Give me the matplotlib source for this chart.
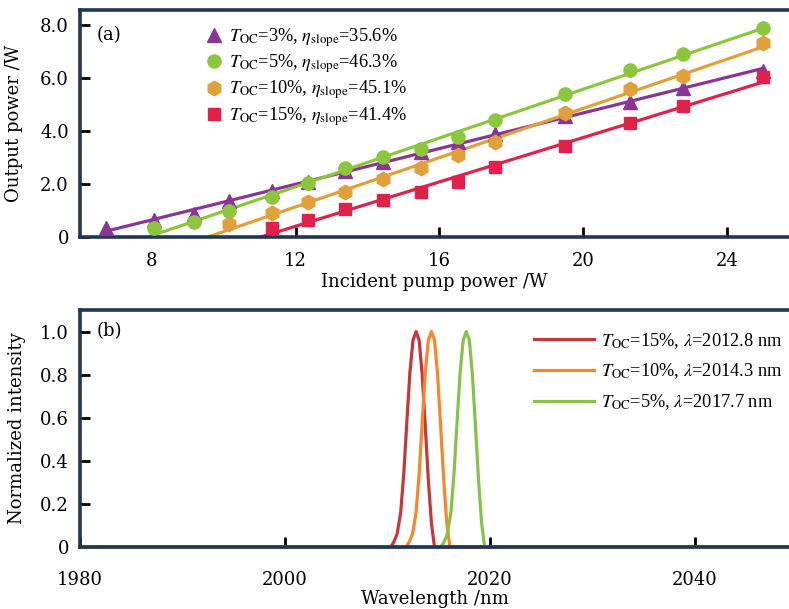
import numpy as np
import matplotlib
matplotlib.use("Agg")
import matplotlib.pyplot as plt
from matplotlib.lines import Line2D
from matplotlib.font_manager import FontProperties

plt.rcParams['font.family'] = ['DejaVu Serif']
plt.rcParams['mathtext.fontset'] = 'stix'

# ---------------- data (a) ----------------
pump_3 = [6.72, 8.07, 9.18, 10.16, 11.33, 12.35, 13.37, 14.44, 15.48, 16.51, 17.56, 19.50, 21.30, 22.77, 25.00]
out_3 = [0.33, 0.64, 0.85, 1.36, 1.74, 2.08, 2.50, 2.85, 3.22, 3.57, 3.90, 4.55, 5.11, 5.61, 6.28]

pump_5 = [8.07, 9.18, 10.16, 11.33, 12.35, 13.37, 14.44, 15.48, 16.51, 17.56, 19.50, 21.30, 22.77, 25.00]
out_5 = [0.33, 0.58, 0.99, 1.50, 2.05, 2.59, 3.02, 3.32, 3.79, 4.42, 5.40, 6.30, 6.89, 7.90]

pump_10 = [10.16, 11.33, 12.35, 13.37, 14.44, 15.48, 16.51, 17.56, 19.50, 21.30, 22.77, 25.00]
out_10 = [0.49, 0.92, 1.31, 1.71, 2.18, 2.62, 3.09, 3.60, 4.67, 5.57, 6.08, 7.31]

pump_15 = [11.33, 12.35, 13.37, 14.44, 15.48, 16.51, 17.56, 19.50, 21.30, 22.77, 25.00]
out_15 = [0.35, 0.64, 1.05, 1.40, 1.69, 2.06, 2.65, 3.45, 4.29, 4.94, 6.05]

labels_a = [r'$T_{\mathrm{OC}}$=3%, $\eta_{\mathrm{slope}}$=35.6%',
            r'$T_{\mathrm{OC}}$=5%, $\eta_{\mathrm{slope}}$=46.3%',
            r'$T_{\mathrm{OC}}$=10%, $\eta_{\mathrm{slope}}$=45.1%',
            r'$T_{\mathrm{OC}}$=15%, $\eta_{\mathrm{slope}}$=41.4%']

xticks_a = [8, 12, 16, 20, 24]
yticks_a = [0, 2, 4, 6, 8]
yticklabels_a = ['0', '2.0', '4.0', '6.0', '8.0']

# ---------------- data (b) ----------------
wl_15 = [1980.0, 2010.3, 2010.6, 2010.95, 2011.3, 2011.6, 2011.9, 2012.2, 2012.5, 2012.8,
         2013.1, 2013.4, 2013.7, 2014.0, 2014.3, 2014.6, 2050.0]
int_15 = [0.0, 0.0, 0.02, 0.06, 0.16, 0.34, 0.58, 0.81, 0.96, 1.0,
          0.96, 0.80, 0.56, 0.31, 0.11, 0.0, 0.0]

wl_10 = [1980.0, 2011.8, 2012.1, 2012.45, 2012.8, 2013.1, 2013.4, 2013.7, 2014.0, 2014.3,
         2014.6, 2014.9, 2015.2, 2015.5, 2015.8, 2016.1, 2050.0]
int_10 = [0.0, 0.0, 0.02, 0.06, 0.16, 0.34, 0.58, 0.81, 0.96, 1.0,
          0.96, 0.80, 0.56, 0.31, 0.11, 0.0, 0.0]

wl_5 = [1980.0, 2015.2, 2015.5, 2015.85, 2016.2, 2016.5, 2016.8, 2017.1, 2017.4, 2017.7,
        2018.0, 2018.3, 2018.6, 2018.9, 2019.2, 2019.5, 2050.0]
int_5 = [0.0, 0.0, 0.02, 0.06, 0.16, 0.34, 0.58, 0.81, 0.96, 1.0,
         0.96, 0.80, 0.56, 0.31, 0.11, 0.0, 0.0]

labels_b = [r'$T_{\mathrm{OC}}$=15%, $\lambda$=2012.8 nm',
            r'$T_{\mathrm{OC}}$=10%, $\lambda$=2014.3 nm',
            r'$T_{\mathrm{OC}}$=5%, $\lambda$=2017.7 nm']

xticks_b = [1980, 2000, 2020, 2040]
yticks_b = [0, 0.2, 0.4, 0.6, 0.8, 1.0]
yticklabels_b = ['0', '0.2', '0.4', '0.6', '0.8', '1.0']

# ---------------- styling ----------------
spine_col = '#1f3754'
c_purple = '#8a3595'
c_green = '#8cc63e'
c_orange = '#e0a03a'
c_red = '#e0224a'
c_red_b = '#c2383c'
c_orange_b = '#f7862e'
c_green_b = '#86c24a'
FS = 13
leg_font = FontProperties(family='Liberation Serif', size=13.2)

fig = plt.figure(figsize=(7.89, 6.09), dpi=100)
ax1 = fig.add_axes([80/789, (609-237)/609, 1 - 80/789, (237-10)/609])
ax2 = fig.add_axes([80/789, (609-547)/609, 1 - 80/789, (547-310)/609])

def style(ax, xpad):
    for s in ['left', 'top', 'bottom', 'right']:
        ax.spines[s].set_color(spine_col)
        ax.spines[s].set_linewidth(2.6)
    ax.spines['right'].set_visible(False)
    ax.tick_params(direction='in', length=7, width=2, colors='black',
                   labelsize=FS, top=False, right=False)
    ax.tick_params(axis='x', pad=xpad)
    ax.tick_params(axis='y', pad=8)

series = [(pump_3, out_3, c_purple, '^', 10),
          (pump_5, out_5, c_green, 'o', 9.5),
          (pump_10, out_10, c_orange, 'h', 10.5),
          (pump_15, out_15, c_red, 's', 9)]

handles = []
for (px, py, col, mk, ms), lab in zip(series, labels_a):
    px = np.asarray(px); py = np.asarray(py)
    k, b = np.polyfit(px, py, 1)
    x0 = max(-b / k, 6.72)
    xs = np.array([x0, px[-1]])
    ax1.plot(xs, k * xs + b, color=col, lw=2.3, zorder=2, solid_capstyle='butt')
    ax1.plot(px, py, ls='none', marker=mk, ms=ms, color=col, mec=col, zorder=3)
    handles.append(Line2D([], [], ls='none', marker=mk, ms=ms, color=col, label=lab))

ax1.set_xlim(6.0, 25.73)
ax1.set_ylim(0, 8.57)
ax1.set_xticks(xticks_a)
ax1.set_yticks(yticks_a)
ax1.set_yticklabels(yticklabels_a)
style(ax1, 11)
ax1.set_xlabel('Incident pump power /W', fontsize=FS, labelpad=2)
ax1.set_ylabel('Output power /W', fontsize=FS, labelpad=12)
ax1.text(0.024, 0.89, '(a)', transform=ax1.transAxes, fontsize=FS, va='center')
ax1.legend(handles=handles, loc='upper left', bbox_to_anchor=(0.158, 0.985), frameon=False,
           prop=leg_font, handlelength=1.0, handletextpad=0.3, labelspacing=0.2, borderpad=0.2)

lines_b = []
for wl, it, col, lab in [(wl_15, int_15, c_red_b, labels_b[0]),
                         (wl_10, int_10, c_orange_b, labels_b[1]),
                         (wl_5, int_5, c_green_b, labels_b[2])]:
    l, = ax2.plot(wl, it, color=col, lw=2.3, label=lab, clip_on=False)
    lines_b.append(l)

ax2.set_xlim(1980, 2049.2)
ax2.set_ylim(0, 1.1)
ax2.set_xticks(xticks_b)
ax2.set_yticks(yticks_b)
ax2.set_yticklabels(yticklabels_b)
style(ax2, 17)
ax2.set_xlabel('Wavelength /nm', fontsize=FS, labelpad=1)
ax2.set_ylabel('Normalized intensity', fontsize=FS, labelpad=10)
ax2.text(0.024, 0.91, '(b)', transform=ax2.transAxes, fontsize=FS, va='center')
ax2.legend(handles=lines_b, loc='upper right', bbox_to_anchor=(1.017, 0.99), frameon=False,
           prop=leg_font, handlelength=3.3, handletextpad=0.4, labelspacing=0.6, borderpad=0.5)

fig.savefig('out.png', dpi=100)
